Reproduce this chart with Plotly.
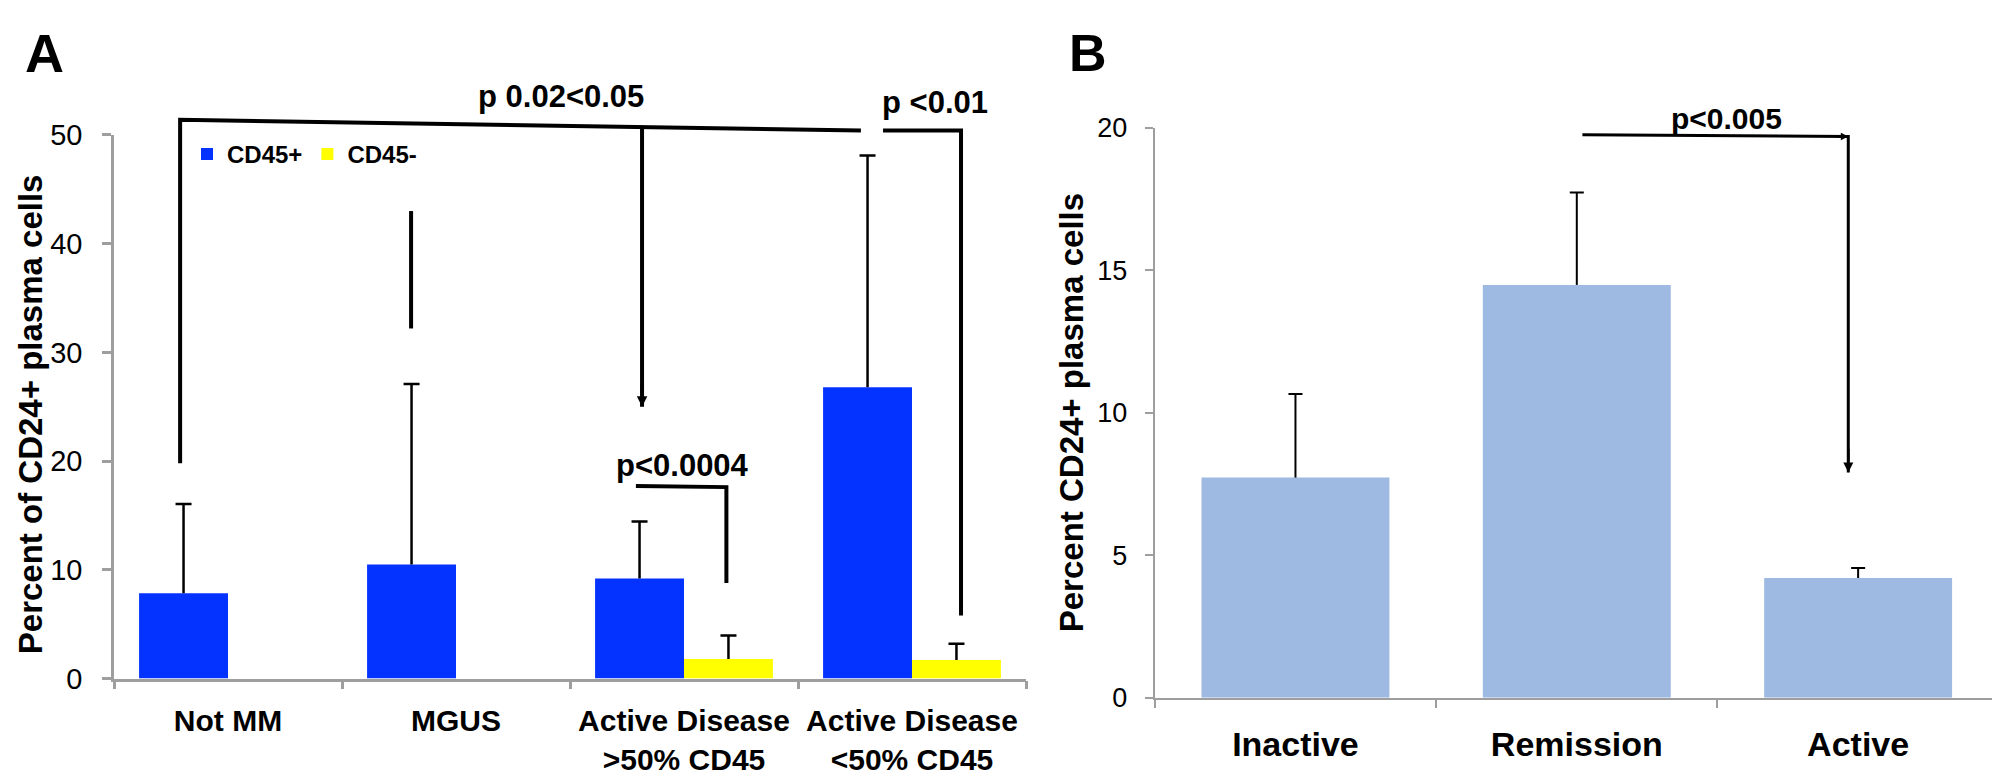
import plotly.graph_objects as go

# --------------------
# Data
# --------------------
A_CATS = ["Not MM", "MGUS", "Active Disease<br>>50% CD45", "Active Disease<br><50% CD45"]
A_CD45_POS = [7.85, 10.5, 9.2, 26.8]
A_CD45_POS_ERR = [8.2, 16.6, 5.25, 21.3]
A_CD45_NEG = [None, None, 1.8, 1.7]
A_CD45_NEG_ERR = [None, None, 2.15, 1.5]

B_CATS = ["Inactive", "Remission", "Active"]
B_VALUES = [7.72, 14.48, 4.2]
B_ERR = [2.93, 3.24, 0.35]

A_YTICKS = [0, 10, 20, 30, 40, 50]
B_YTICKS = [0, 5, 10, 15, 20]

# --------------------
# Layout settings
# --------------------
W, H = 2000, 776
FONT = "Liberation Sans, Arial, sans-serif"
BLUE = "#0433FF"
YELLOW = "#FFFF00"
LIGHT_BLUE = "#9FBAE2"
AXIS_GREY = "#9E9E9E"

A_XDOM = [0.053, 0.509]
A_YDOM = [0.1202, 0.8509]
A_YMAX = 50
B_XDOM = [0.5734, 0.9954]
B_YDOM = [0.0945, 0.8608]
B_YMAX = 20
BARGAP_A = 0.22
B_BAR_WIDTH = 0.668


def to_paper(c, v, xdom, ydom, ncat, ymax):
    x = xdom[0] + (c + 0.5) / ncat * (xdom[1] - xdom[0])
    y = ydom[0] + v / ymax * (ydom[1] - ydom[0])
    return x, y


def a_pt(c, v):
    return to_paper(c, v, A_XDOM, A_YDOM, len(A_CATS), A_YMAX)


def b_pt(c, v):
    return to_paper(c, v, B_XDOM, B_YDOM, len(B_CATS), B_YMAX)


def add_err(v, e):
    return [None if a is None else a + b for a, b in zip(v, e)]


# significance brackets, (category index, value) pairs
A_BRACKETS = [
    [(-0.21, 19.8), (-0.21, 51.4), (2.776, 50.4)],
    [(2.873, 50.4), (3.215, 50.4), (3.215, 5.8)],
    [(0.803, 43.0), (0.803, 32.2)],
    [(1.816, 50.85), (1.816, 25.0)],
    [(1.789, 17.72), (2.186, 17.61), (2.186, 8.8)],
]
A_ARROWS = [(1.816, 25.0)]
B_BRACKETS = [
    [(1.02, 19.75), (1.965, 19.69), (1.965, 7.9)],
]
B_ARROWS = [(1.965, 7.9)]
B_CORNER = (1.965, 19.69)

fig = go.Figure()

# Panel A bars (stems only), caps drawn by invisible bars at the error top
fig.add_trace(go.Bar(
    x=A_CATS, y=A_CD45_POS, name="CD45+", offsetgroup="pos",
    marker=dict(color=BLUE, line=dict(width=0)),
    error_y=dict(type="data", array=A_CD45_POS_ERR, arrayminus=[0] * 4,
                 symmetric=False, color="black", thickness=2.5, width=0),
    xaxis="x", yaxis="y",
))
fig.add_trace(go.Bar(
    x=A_CATS, y=A_CD45_NEG, name="CD45-", offsetgroup="neg",
    marker=dict(color=YELLOW, line=dict(width=0)),
    error_y=dict(type="data", array=A_CD45_NEG_ERR, arrayminus=[0] * 4,
                 symmetric=False, color="black", thickness=2.5, width=0),
    xaxis="x", yaxis="y",
))
for vals, errs, grp in [(A_CD45_POS, A_CD45_POS_ERR, "pos"), (A_CD45_NEG, A_CD45_NEG_ERR, "neg")]:
    fig.add_trace(go.Bar(
        x=A_CATS, y=add_err(vals, errs), offsetgroup=grp, showlegend=False,
        marker=dict(color="rgba(0,0,0,0)", line=dict(width=0)),
        error_y=dict(type="data", array=[0] * 4, color="black", thickness=2.5, width=8),
        xaxis="x", yaxis="y",
    ))

# Panel B
fig.add_trace(go.Bar(
    x=B_CATS, y=B_VALUES, width=B_BAR_WIDTH, showlegend=False, offsetgroup="b",
    marker=dict(color=LIGHT_BLUE, line=dict(width=0)),
    error_y=dict(type="data", array=B_ERR, arrayminus=[0] * 3,
                 symmetric=False, color="black", thickness=2, width=0),
    xaxis="x2", yaxis="y2",
))
fig.add_trace(go.Bar(
    x=B_CATS, y=add_err(B_VALUES, B_ERR), width=B_BAR_WIDTH, showlegend=False, offsetgroup="b",
    marker=dict(color="rgba(0,0,0,0)", line=dict(width=0)),
    error_y=dict(type="data", array=[0] * 3, color="black", thickness=2, width=7),
    xaxis="x2", yaxis="y2",
))

shapes = []
annotations = []


def add_bracket(points, conv, lw):
    coords = [conv(c, v) for c, v in points]
    path = "M " + " L ".join(f"{x:.5f},{y:.5f}" for x, y in coords)
    shapes.append(dict(type="path", path=path, xref="paper", yref="paper",
                       line=dict(color="black", width=lw)))


def add_arrowhead(x, y, ax, ay, size, lw):
    annotations.append(dict(x=x, y=y, xref="paper", yref="paper", text="", showarrow=True,
                            ax=ax, ay=ay, arrowhead=2, arrowsize=size, arrowwidth=lw,
                            arrowcolor="black"))


for br in A_BRACKETS:
    add_bracket(br, a_pt, 4)
for br in B_BRACKETS:
    add_bracket(br, b_pt, 3)

for c, v in A_ARROWS:
    add_arrowhead(*a_pt(c, v), 0, -25, 0.7, 3)
for c, v in B_ARROWS:
    add_arrowhead(*b_pt(c, v), 0, -25, 0.8, 2.5)
add_arrowhead(*b_pt(*B_CORNER), -14, 0, 0.6, 2.5)


def label(text, px, py, size, bold=True, angle=0):
    annotations.append(dict(
        x=px / W, y=1 - py / H, xref="paper", yref="paper", text=text, showarrow=False,
        textangle=angle, xanchor="center", yanchor="middle",
        font=dict(family=FONT, size=size, color="black", weight="bold" if bold else "normal"),
    ))


label("A", 36, 30, 54)
label("B", 1080, 30, 52)
label("p 0.02<0.05", 553, 76, 31)
label("p <0.01", 927, 82, 31)
label("p<0.0004", 674, 460, 31)
label("p<0.005", 1718, 99, 30)
label("Percent of CD24+ plasma cells", 22, 407, 33, angle=-90)
label("Percent CD24+ plasma cells", 1063, 406, 33, angle=-90)

axis_common = dict(showline=True, linecolor=AXIS_GREY, showgrid=False, zeroline=False,
                   ticks="outside", tickcolor=AXIS_GREY, fixedrange=True)

fig.update_layout(
    width=W, height=H, autosize=False,
    margin=dict(l=0, r=0, t=0, b=0),
    paper_bgcolor="white", plot_bgcolor="white",
    barmode="group", bargap=BARGAP_A, bargroupgap=0,
    hovermode=False,
    font=dict(family=FONT, color="black"),
    xaxis=dict(domain=A_XDOM, anchor="y", type="category", categoryorder="array",
               categoryarray=A_CATS, tickson="boundaries", ticklen=8, tickwidth=2.5,
               linewidth=2.5, ticklabelstandoff=14,
               tickfont=dict(size=30, weight="bold", color="black"), **axis_common),
    yaxis=dict(domain=A_YDOM, anchor="x", range=[0, A_YMAX], tickvals=A_YTICKS,
               ticklen=9, tickwidth=2.5, linewidth=2.5, ticklabelstandoff=14,
               tickfont=dict(size=29, color="black"), **axis_common),
    xaxis2=dict(domain=B_XDOM, anchor="y2", type="category", categoryorder="array",
                categoryarray=B_CATS, tickson="boundaries", ticklen=8, tickwidth=2,
                linewidth=2, ticklabelstandoff=16,
                tickfont=dict(size=34, weight="bold", color="black"), **axis_common),
    yaxis2=dict(domain=B_YDOM, anchor="x2", range=[0, B_YMAX], tickvals=B_YTICKS,
                ticklen=8, tickwidth=2, linewidth=2, ticklabelstandoff=12,
                tickfont=dict(size=27, color="black"), **axis_common),
    legend=dict(orientation="h", x=0.0895, y=1 - 136 / H, xanchor="left", yanchor="middle",
                bgcolor="rgba(0,0,0,0)", font=dict(size=24, weight="bold", color="black"),
                itemclick=False, itemdoubleclick=False),
    shapes=shapes,
    annotations=annotations,
)

fig.write_html("out.html")
